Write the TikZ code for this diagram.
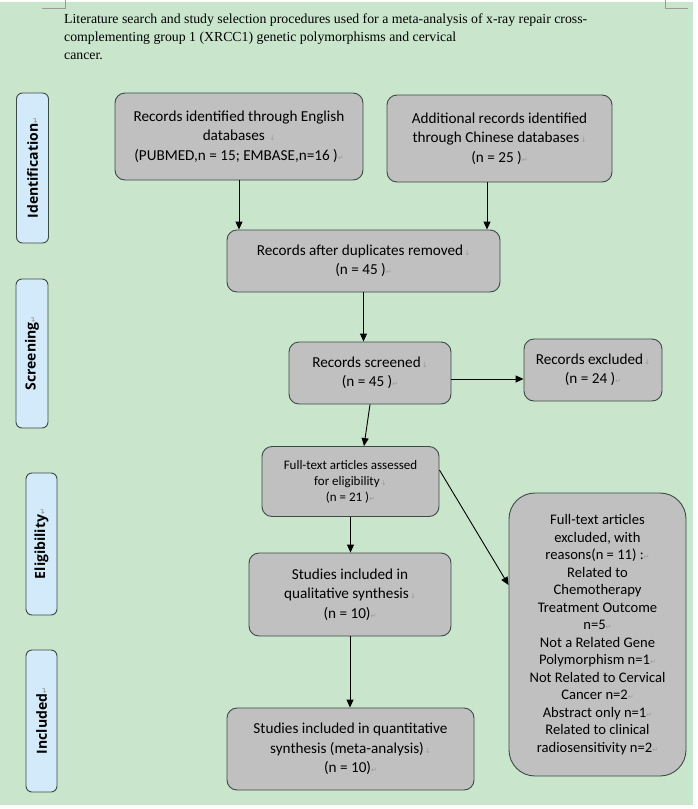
\documentclass[tikz,border=0pt]{standalone}
\usepackage{fontspec}
\setmainfont{Carlito}
\newfontfamily\titlefont{Liberation Serif}
\newfontfamily\phasefont{Open Sans}
\newfontfamily\symfont{DejaVu Sans}
\usetikzlibrary{arrows.meta}
\definecolor{bggreen}{HTML}{C9E6CC}
\definecolor{boxgray}{HTML}{C0C0C0}
\definecolor{boxline}{HTML}{3C4A46}
\definecolor{phaseblue}{HTML}{D2EAFA}
\definecolor{markgray}{HTML}{9A9A9A}
\newcommand{\dn}{{\symfont\fontsize{7}{7}\selectfont\color{markgray}\,↓}}
\newcommand{\ret}{{\symfont\fontsize{7}{7}\selectfont\color{markgray}↵}}
\tikzset{
  stagebox/.style={draw=boxline, fill=boxgray, rounded corners=10pt, line width=0.9pt,
    align=center, inner sep=2pt, font=\fontsize{15.2}{19.5}\selectfont},
  phase/.style={draw=boxline, fill=phaseblue, rounded corners=6pt, line width=0.9pt,
    rotate=90, inner sep=1pt, font=\phasefont\fontsize{14}{16}\selectfont\bfseries},
  arr/.style={-{Triangle[length=8pt,width=7pt]}, line width=0.9pt},
}

\begin{document}
\begin{tikzpicture}[x=1pt, y=-1pt]
    \useasboundingbox (0,0) rectangle (697,809);
    \fill[white] (0,0) rectangle (697,809);
    \fill[bggreen] (0,2) rectangle (693,805);
    \draw[markgray, line width=0.6pt] (42,8) -- (65,8) -- (65,0);
    \draw[markgray, line width=0.6pt] (688,8) -- (665,8) -- (665,0);

    % title
    \node (title) at (64,14) [anchor=north west, align=left, inner sep=0pt,
        font=\titlefont\fontsize{13.8}{18}\selectfont]
        {Literature search and study selection procedures used for a meta-analysis of x-ray repair cross-\\
         complementing group 1 (XRCC1) genetic polymorphisms and cervical\\
         cancer.};

    % phases
    \node (ident) at (32.5,168) [phase, minimum width=150pt, minimum height=32pt] {Identification\ret};
    \node (screen) at (32,353.5) [phase, minimum width=149pt, minimum height=32pt] {Screening\ret};
    \node (elig) at (41.5,544) [phase, minimum width=142pt, minimum height=31pt] {Eligibility\ret};
    \node (incl) at (41.5,721) [phase, minimum width=142pt, minimum height=31pt] {Included\ret};

    % boxes
    \node (eng) at (239,136.5) [stagebox, minimum width=248pt, minimum height=87pt]
        {Records identified through English\\ databases \dn\\ (PUBMED,n = 15; EMBASE,n=16 )\ret};
    \node (chi) at (499.5,138.5) [stagebox, minimum width=225pt, minimum height=87pt]
        {Additional records identified\\ through Chinese databases\dn\\ (n = 25 )\ret};
    \node (dup) at (363.5,261) [stagebox, minimum width=273pt, minimum height=62pt]
        {Records after duplicates removed\dn\\ (n = 45 )\ret};
    \node (scr) at (370,373) [stagebox, minimum width=162pt, minimum height=62pt]
        {Records screened\dn\\ (n = 45 )\ret};
    \node (exc) at (593,370) [stagebox, minimum width=138pt, minimum height=62pt]
        {Records excluded\dn\\ (n = 24 )\ret};
    \node (full) at (350.5,481.5) [stagebox, minimum width=177pt, minimum height=70pt,
        font=\fontsize{13}{16}\selectfont]
        {Full-text articles assessed\\ for eligibility\dn\\ (n = 21 )\ret};
    \node (qual) at (350,594.5) [stagebox, minimum width=202pt, minimum height=83pt]
        {Studies included in\\ qualitative synthesis\dn\\ (n = 10)\ret};
    \node (quant) at (350.5,749) [stagebox, minimum width=247pt, minimum height=82pt]
        {Studies included in quantitative\\ synthesis (meta-analysis)\dn\\ (n = 10)\ret};
    \node (reas) at (597.5,634.5) [stagebox, rounded corners=26pt, minimum width=177pt,
        minimum height=283pt, font=\fontsize{14.6}{17.5}\selectfont]
        {Full-text articles\\ excluded, with\\ reasons(n = 11) :\ret\\ Related to\\ Chemotherapy\\
         Treatment Outcome\\ n=5\ret\\ Not a Related Gene\\ Polymorphism n=1\ret\\
         Not Related to Cervical\\ Cancer n=2\ret\\ Abstract only n=1\ret\\
         Related to clinical\\ radiosensitivity n=2\ret};

    % arrows
    \draw[arr] (eng.south) -- (eng.south |- dup.north);
    \draw[arr] ([xshift=-12.5pt]chi.south) -- ([xshift=-12.5pt]chi.south |- dup.north);
    \draw[arr] (dup.south) -- (dup.south |- scr.north);
    \draw[arr] ([yshift=-6pt]scr.east) -- ([yshift=-6pt]scr.east -| exc.west);
    \draw[arr] (scr.south) -- ([xshift=13.5pt]full.north);
    \draw[arr] (full.south) -- (full.south |- qual.north);
    \draw[arr] (qual.south) -- (qual.south |- quant.north);
    \draw[arr] ([yshift=11.5pt]full.east) -- ([yshift=49.5pt]reas.west);
\end{tikzpicture}
\end{document}
